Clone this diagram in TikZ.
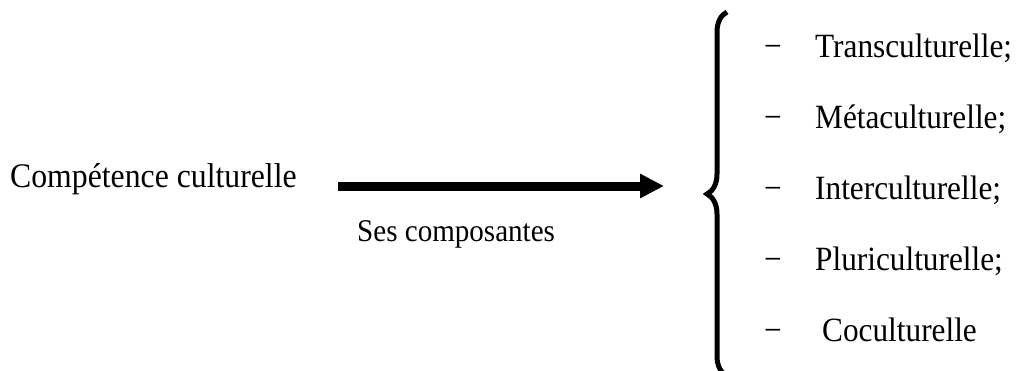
\documentclass[tikz,border=0pt]{standalone}
\usepackage{fontspec}
\setmainfont[FakeStretch=0.92]{Liberation Serif}
\usepackage{tikz}
\usetikzlibrary{arrows.meta, decorations.pathreplacing, positioning}

\begin{document}
\begin{tikzpicture}[
			x=1pt, y=-1pt,
			every node/.style={
					inner sep=0pt,
					anchor=base west,
					font=\fontsize{34}{40}\selectfont
				},
			dashmark/.style={anchor=base west},
			thickarrow/.style={
					line width=9pt,
					-{Triangle[length=24pt, width=23pt]}
				}
		]
		\useasboundingbox (0,0) rectangle (1017,370);

		\node[font=\fontsize{34.5}{40}\selectfont] (comp) at (10, 187) {Compétence culturelle};
		\node[font=\fontsize{31.6}{37}\selectfont] (ses) at (357, 241) {Ses composantes};

		\coordinate (from) at (338, 186);
		\coordinate (to) at (664, 186);
		\draw[thickarrow] (from) -- (to);

		% the big brace, tip pointing at the arrow
		\draw[decorate, decoration={brace, amplitude=20pt}, line width=5pt]
		(727, 376) -- (727, 12);

		\node[dashmark] (d1) at (764, 57.5) {−};
		\node (trans) at (815, 57.5) {Transculturelle;};
		\node[dashmark] (d2) at (764, 128.5) {−};
		\node (meta) at (815, 128.5) {Métaculturelle;};
		\node[dashmark] (d3) at (764, 199.5) {−};
		\node (inter) at (815, 199.5) {Interculturelle;};
		\node[dashmark] (d4) at (764, 270.5) {−};
		\node (pluri) at (815, 270.5) {Pluriculturelle;};
		\node[dashmark] (d5) at (764, 341.5) {−};
		\node (co) at (822, 341.5) {Coculturelle};

	\end{tikzpicture}
\end{document}
